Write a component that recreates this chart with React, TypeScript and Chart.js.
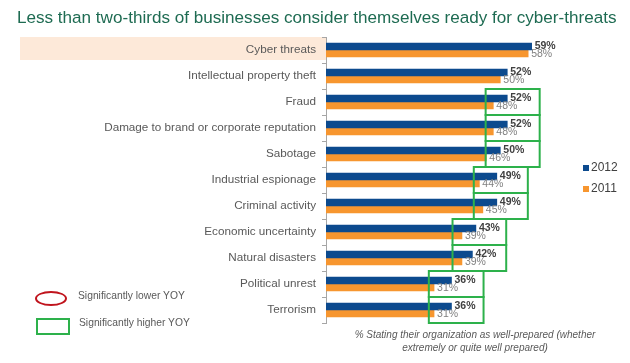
import React, { useEffect, useRef } from "react";
import { Chart, registerables } from "chart.js";

Chart.register(...registerables);

const categories = [
  "Cyber threats",
  "Intellectual property theft",
  "Fraud",
  "Damage to brand or corporate reputation",
  "Sabotage",
  "Industrial espionage",
  "Criminal activity",
  "Economic uncertainty",
  "Natural disasters",
  "Political unrest",
  "Terrorism",
];
const values2012 = [59, 52, 52, 52, 50, 49, 49, 43, 42, 36, 36];
const values2011 = [58, 50, 48, 48, 46, 44, 45, 39, 39, 31, 31];
// rows flagged "significantly higher YOY" and the value span of their box
const sigRows = [2, 3, 4, 5, 6, 7, 8, 9, 10];
const sigFrom = [45.8, 45.8, 45.8, 42.4, 42.4, 36.3, 36.3, 29.5, 29.5];
const sigTo = [61.3, 61.3, 61.3, 57.9, 57.9, 51.7, 51.7, 45.2, 45.2];
const highlightRow = 0;

const BLUE = "#0c4a8e";
const ORANGE = "#f7962f";
const GREEN = "#2db14b";
const FONT = "'Liberation Sans', Arial, sans-serif";

export default function App() {
  const ref = useRef<HTMLCanvasElement>(null);
  useEffect(() => {
    const canvas = ref.current!;
    const bgPlugin = {
      id: "bg",
      beforeDraw(chart: any) {
        const ctx = chart.ctx;
        const y = chart.scales.y;
        const h = (chart.chartArea.bottom - chart.chartArea.top) / categories.length;
        const cy = y.getPixelForValue(highlightRow);
        ctx.save();
        ctx.fillStyle = "#fde9d9";
        ctx.fillRect(20, cy - h / 2, chart.chartArea.left - 20, h - 3);
        ctx.restore();
      },
      afterDatasetsDraw(chart: any) {
        const ctx = chart.ctx;
        const x = chart.scales.x;
        const y = chart.scales.y;
        const h = (chart.chartArea.bottom - chart.chartArea.top) / categories.length;
        ctx.save();
        // value labels
        ctx.textBaseline = "middle";
        ctx.textAlign = "left";
        chart.data.datasets.forEach((ds: any, di: number) => {
          const meta = chart.getDatasetMeta(di);
          meta.data.forEach((bar: any, i: number) => {
            ctx.font = di === 0 ? `bold 10.5px ${FONT}` : `10.5px ${FONT}`;
            ctx.fillStyle = di === 0 ? "#404040" : "#808080";
            ctx.fillText(ds.data[i] + "%", bar.x + 3, bar.y + (di === 0 ? 0 : 1));
          });
        });
        // significance boxes
        ctx.strokeStyle = GREEN;
        ctx.lineWidth = 2;
        sigRows.forEach((r, k) => {
          const cy = y.getPixelForValue(r);
          const x0 = x.getPixelForValue(sigFrom[k]);
          const x1 = x.getPixelForValue(sigTo[k]);
          ctx.strokeRect(x0, cy - h / 2, x1 - x0, h);
        });
        ctx.restore();
      },
    };
    const chart = new Chart(canvas, {
      type: "bar",
      data: {
        labels: categories,
        datasets: [
          { label: "2012", data: values2012, backgroundColor: BLUE, barThickness: 7 },
          { label: "2011", data: values2011, backgroundColor: ORANGE, barThickness: 7 },
        ],
      },
      options: {
        indexAxis: "y",
        animation: false,
        responsive: false,
        maintainAspectRatio: false,
        layout: { padding: { top: 37, bottom: 40, right: 60, left: 0 } },
        plugins: { legend: { display: false }, tooltip: { enabled: false } },
        scales: {
          x: { display: false, min: 0, max: 70 },
          y: {
            afterFit(scale: any) {
              scale.width = 326;
            },
            grid: {
              drawOnChartArea: false,
              drawTicks: true,
              tickLength: 4,
              offset: true,
              color: "#a6a6a6",
            },
            border: { display: true, color: "#a6a6a6" },
            ticks: {
              color: "#595959",
              font: { family: FONT, size: 11.7 },
              padding: 6,
            },
          },
        },
      },
      plugins: [bgPlugin],
    });
    return () => chart.destroy();
  }, []);

  const abs = (s: React.CSSProperties): React.CSSProperties => ({
    position: "absolute",
    fontFamily: FONT,
    whiteSpace: "nowrap",
    ...s,
  });

  return (
    <div style={{ position: "fixed", left: 0, top: 0, width: 630, height: 363, background: "#fff" }}>
      <canvas ref={ref} width={630} height={363} style={{ position: "absolute", left: 0, top: 0 }} />
      <div style={abs({ left: 17, top: 8, fontSize: 17.1, color: "#1e6b52" })}>
        Less than two-thirds of businesses consider themselves ready for cyber-threats
      </div>
      <div style={abs({ left: 583, top: 157, fontSize: 12, color: "#404040", lineHeight: "21px" })}>
        <div>
          <span style={{ display: "inline-block", width: 6, height: 6, background: BLUE, marginRight: 2 }} />
          2012
        </div>
        <div>
          <span style={{ display: "inline-block", width: 6, height: 6, background: ORANGE, marginRight: 2 }} />
          2011
        </div>
      </div>
      <div
        style={abs({
          left: 35,
          top: 291,
          width: 28,
          height: 11,
          border: "2px solid #c0141d",
          borderRadius: "50%",
        })}
      />
      <div style={abs({ left: 78, top: 290, fontSize: 10.3, color: "#595959" })}>Significantly lower YOY</div>
      <div style={abs({ left: 36, top: 318, width: 30, height: 13, border: `2px solid ${GREEN}` })} />
      <div style={abs({ left: 79, top: 317, fontSize: 10.3, color: "#595959" })}>Significantly higher YOY</div>
      <div
        style={abs({
          left: 340,
          top: 328,
          width: 270,
          textAlign: "center",
          fontSize: 10,
          fontStyle: "italic",
          color: "#595959",
          lineHeight: "13px",
        })}
      >
        % Stating their organization as well-prepared (whether
        <br />
        extremely or quite well prepared)
      </div>
    </div>
  );
}
